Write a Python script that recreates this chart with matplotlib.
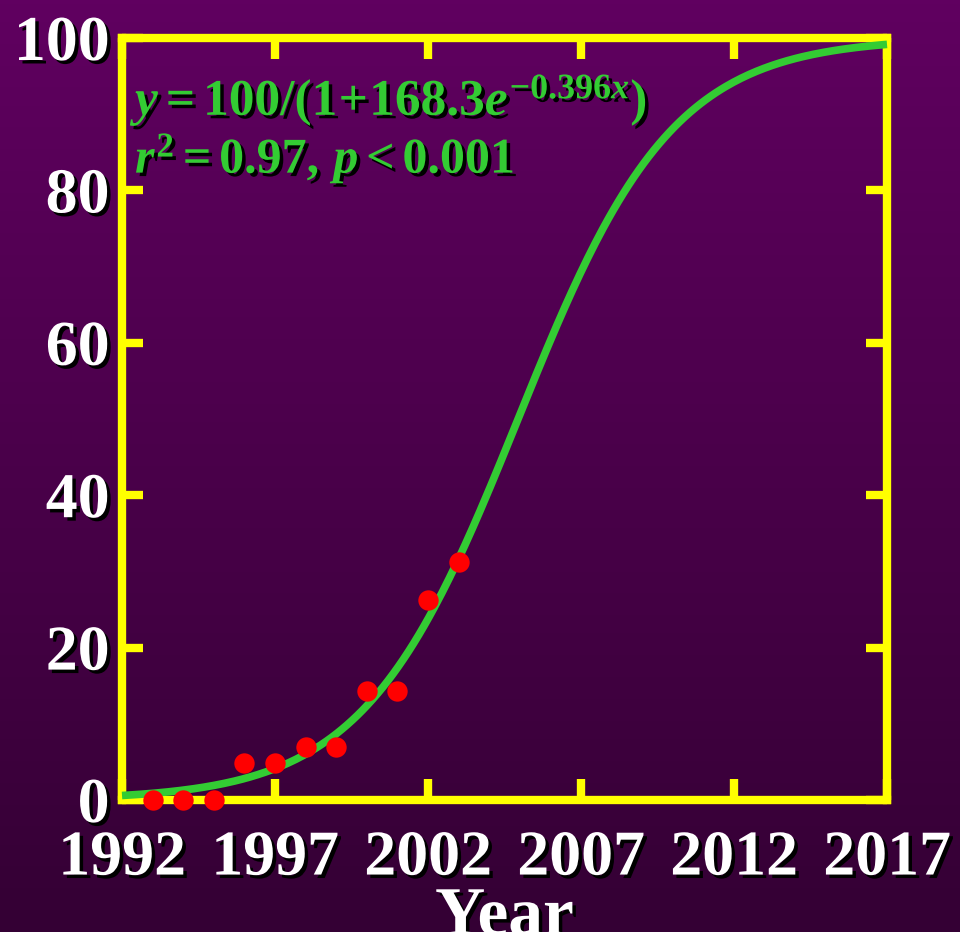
import numpy as np
import matplotlib
matplotlib.use('Agg')
import matplotlib.pyplot as plt
import matplotlib.patheffects as pe

# observed values (percent) by year
years = [1993, 1994, 1995, 1996, 1997, 1998, 1999, 2000, 2001, 2002, 2003]
share = [0.0, 0.0, 0.0, 4.8, 4.8, 7.0, 7.0, 14.3, 14.3, 26.3, 31.2]

# logistic fit from the figure: y = 100/(1+a*exp(-b*x)), x = year - 1992
fit_a = 168.3
fit_b = 0.396
fit_start = 1992

xticks = [1992, 1997, 2002, 2007, 2012, 2017]
yticks = [0, 20, 40, 60, 80, 100]

plt.rcParams['mathtext.fontset'] = 'custom'
plt.rcParams['mathtext.rm'] = 'Liberation Serif:bold'
plt.rcParams['mathtext.it'] = 'Liberation Serif:italic:bold'
plt.rcParams['mathtext.bf'] = 'Liberation Serif:bold'
plt.rcParams['font.family'] = 'Liberation Serif'
plt.rcParams['font.weight'] = 'bold'

yellow = '#FFFF00'
green = '#33CC33'
shadow = [pe.SimplePatchShadow(offset=(2.5, -2.5), shadow_rgbFace='black', alpha=1.0), pe.Normal()]

fig = plt.figure(figsize=(9.6, 9.32), dpi=100)

# purple gradient background
bg = fig.add_axes([0, 0, 1, 1], zorder=-10)
grad = np.linspace(0, 1, 256).reshape(-1, 1)
top = np.array([96, 0, 96]) / 255
bot = np.array([52, 0, 52]) / 255
img = top + (bot - top) * grad[..., None]
bg.imshow(img, aspect='auto', extent=[0, 1, 0, 1])
bg.axis('off')

ax = fig.add_axes([122/960, 1-800/932, 765/960, 762/932])
ax.patch.set_alpha(0)

xs = np.linspace(1992, 2017, 300)
ys = 100 / (1 + fit_a * np.exp(-fit_b * (xs - fit_start)))
ax.plot(xs, ys, color=green, lw=5.5, zorder=3, clip_on=False, solid_capstyle='butt')
ax.scatter(years, share, s=215, color='#FF0000', zorder=5, clip_on=False, linewidths=0)

ax.set_xlim(1992, 2017)
ax.set_ylim(0, 100)
ax.set_xticks(xticks)
ax.set_yticks(yticks)

for s in ax.spines.values():
    s.set_color(yellow)
    s.set_linewidth(6)

ax.tick_params(axis='both', direction='in', length=15, width=6, color=yellow,
               top=True, right=True, labelsize=46, labelcolor='white')
ax.tick_params(axis='y', pad=9)
ax.tick_params(axis='x', pad=22)
for lab in ax.get_xticklabels() + ax.get_yticklabels():
    lab.set_fontweight('bold')
    lab.set_path_effects(shadow)

# the reference cuts "Year" at the bottom edge as well
ax.set_xlabel('Year', fontsize=50, color='white', fontweight='bold', labelpad=-2,
              path_effects=shadow)

ax.text(0.017, 0.899, r'$y = 100/(1\!+\!168.3e^{-0.396x})$', transform=ax.transAxes,
        fontsize=37, color=green, va='baseline', ha='left', path_effects=shadow)
ax.text(0.017, 0.823, r'$r^2 = 0.97,\, p < 0.001$', transform=ax.transAxes,
        fontsize=36, color=green, va='baseline', ha='left', path_effects=shadow)

fig.savefig('out.png', dpi=100)
